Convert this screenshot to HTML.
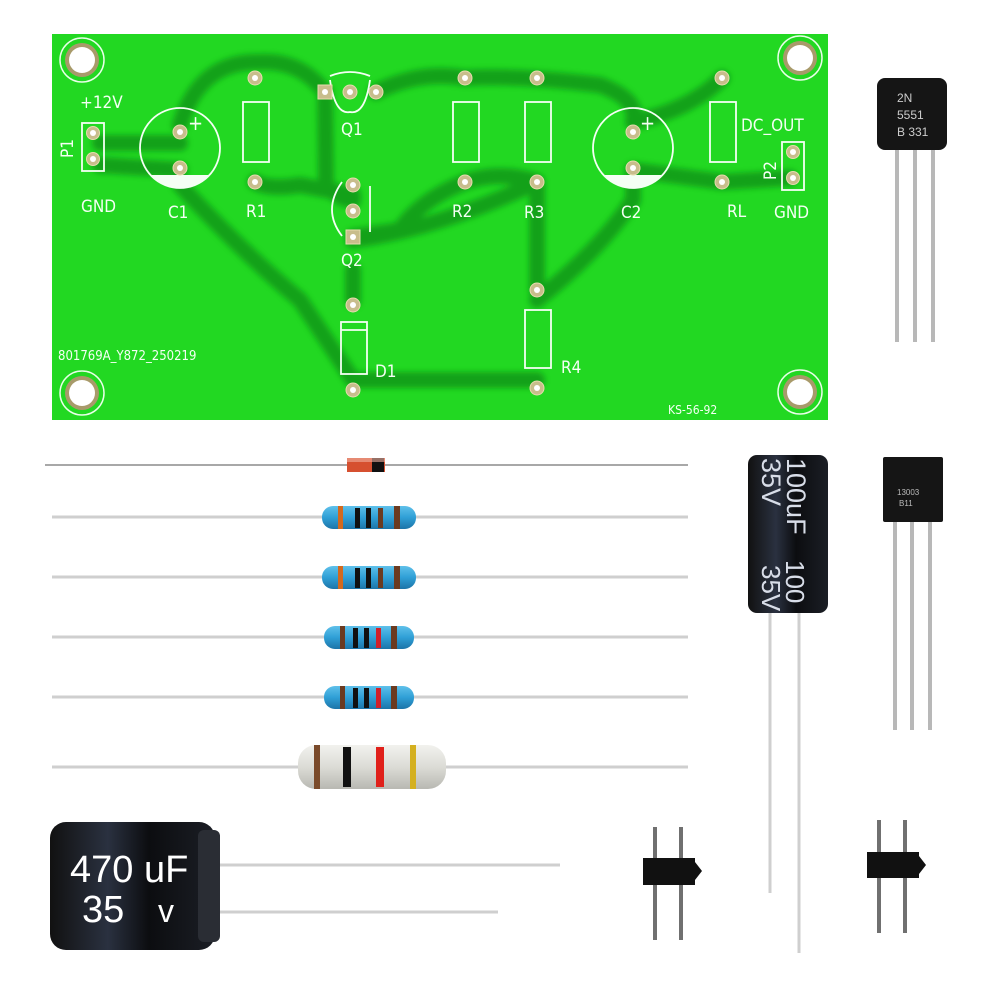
<!DOCTYPE html>
<html><head><meta charset="utf-8"><style>
html,body{margin:0;padding:0;background:#fff;width:1000px;height:1000px;overflow:hidden}
text{font-family:"Liberation Sans",sans-serif}
.silk text{font-family:"DejaVu Sans Condensed","Liberation Sans Narrow","Liberation Sans",sans-serif}
</style></head><body>
<svg width="1000" height="1000" viewBox="0 0 1000 1000" xmlns="http://www.w3.org/2000/svg">
<defs>
<linearGradient id="blk" x1="0" x2="1"><stop offset="0" stop-color="#111"/><stop offset="0.35" stop-color="#2a3140"/><stop offset="0.6" stop-color="#0c0d10"/><stop offset="1" stop-color="#1b1e25"/></linearGradient>
<linearGradient id="res" x1="0" y1="0" x2="0" y2="1"><stop offset="0" stop-color="#5fc0ea"/><stop offset="0.5" stop-color="#2f9fd6"/><stop offset="1" stop-color="#1d74a8"/></linearGradient>
<linearGradient id="res2" x1="0" y1="0" x2="0" y2="1"><stop offset="0" stop-color="#f2f2ee"/><stop offset="0.5" stop-color="#dcdcd6"/><stop offset="1" stop-color="#b8b8b2"/></linearGradient>
<filter id="bl"><feGaussianBlur stdDeviation="3"/></filter>
</defs>
<!-- PCB -->
<rect x="52" y="34" width="776" height="386" fill="#22d822"/>
<g fill="none" stroke="#0c8a18" stroke-width="16" stroke-linecap="round" stroke-linejoin="round" opacity="0.7" filter="url(#bl)">
<path d="M100 143 H180"/>
<path d="M100 165 L180 170"/>
<path d="M180 125 Q200 60 260 62 Q300 60 325 92"/>
<path d="M325 92 L326 185 Q340 200 353 200"/>
<path d="M180 185 Q240 250 300 300 L353 380"/>
<path d="M255 182 Q270 190 300 185 L353 195"/>
<path d="M376 92 Q420 70 465 78 Q520 75 600 85 Q640 100 633 122"/>
<path d="M465 182 Q420 200 400 230 L353 237"/>
<path d="M353 240 Q430 230 520 190 L537 182"/>
<path d="M537 182 L537 290"/>
<path d="M537 300 Q600 250 633 200 L633 170"/>
<path d="M353 380 L537 380"/>
<path d="M353 270 L353 300"/>
<path d="M633 122 Q690 110 722 78"/>
<path d="M722 182 L790 178"/>
<path d="M633 170 L722 182"/>
<path d="M465 182 Q500 170 537 182"/>
</g>
<!-- mounting holes -->
<g>
<circle cx="82" cy="60" r="22" fill="none" stroke="#e8ffe8" stroke-width="1.5"/><circle cx="82" cy="60" r="17" fill="#a89a6a"/><circle cx="82" cy="60" r="13" fill="#fff"/>
<circle cx="800" cy="58" r="22" fill="none" stroke="#e8ffe8" stroke-width="1.5"/><circle cx="800" cy="58" r="17" fill="#a89a6a"/><circle cx="800" cy="58" r="13" fill="#fff"/>
<circle cx="82" cy="393" r="22" fill="none" stroke="#e8ffe8" stroke-width="1.5"/><circle cx="82" cy="393" r="17" fill="#a89a6a"/><circle cx="82" cy="393" r="13" fill="#fff"/>
<circle cx="800" cy="392" r="22" fill="none" stroke="#e8ffe8" stroke-width="1.5"/><circle cx="800" cy="392" r="17" fill="#a89a6a"/><circle cx="800" cy="392" r="13" fill="#fff"/>
</g>
<!-- silkscreen -->
<g fill="none" stroke="#f4fff4" stroke-width="1.8">
<rect x="243" y="102" width="26" height="60"/>
<rect x="453" y="102" width="26" height="60"/>
<rect x="525" y="102" width="26" height="60"/>
<rect x="710" y="102" width="26" height="60"/>
<rect x="525" y="310" width="26" height="58"/>
<rect x="341" y="322" width="26" height="52"/><line x1="341" y1="330" x2="367" y2="330"/>
<rect x="82" y="123" width="22" height="48"/>
<rect x="782" y="142" width="22" height="48"/>
<circle cx="180" cy="148" r="40"/>
<circle cx="633" cy="148" r="40"/>
<path d="M330 76 Q350 68 370 76 M330 80 Q335 115 350 112 Q365 115 370 80"/>
<path d="M342 182 Q322 210 342 236"/><line x1="370" y1="186" x2="370" y2="232"/>
</g>
<path d="M150 175 L210 175 A40 40 0 0 1 150 175Z" fill="#f4fff4"/>
<path d="M603 175 L663 175 A40 40 0 0 1 603 175Z" fill="#f4fff4"/>
<g class="silk" fill="#f4fff4" font-size="17">
<text x="80" y="108">+12V</text>
<text x="81" y="212">GND</text>
<text x="168" y="218">C1</text>
<text x="246" y="217">R1</text>
<text x="341" y="135">Q1</text>
<text x="341" y="266">Q2</text>
<text x="452" y="217">R2</text>
<text x="524" y="218">R3</text>
<text x="621" y="218">C2</text>
<text x="727" y="217">RL</text>
<text x="774" y="218">GND</text>
<text x="741" y="131">DC_OUT</text>
<text x="375" y="377">D1</text>
<text x="561" y="373">R4</text>
<text x="188" y="130" font-size="20">+</text>
<text x="640" y="130" font-size="20">+</text>
<text x="58" y="360" font-size="13">801769A_Y872_250219</text>
<text x="668" y="414" font-size="12">KS-56-92</text>
<text transform="translate(73,158) rotate(-90)">P1</text>
<text transform="translate(776,180) rotate(-90)">P2</text>
</g>
<!-- pads -->
<g fill="#c8bd8c" stroke="#e7dcae" stroke-width="1">
<circle cx="255" cy="78" r="7"/><circle cx="255" cy="182" r="7"/>
<circle cx="465" cy="78" r="7"/><circle cx="465" cy="182" r="7"/>
<circle cx="537" cy="78" r="7"/><circle cx="537" cy="182" r="7"/>
<circle cx="722" cy="78" r="7"/><circle cx="722" cy="182" r="7"/>
<circle cx="537" cy="290" r="7"/><circle cx="537" cy="388" r="7"/>
<circle cx="353" cy="305" r="7"/><circle cx="353" cy="390" r="7"/>
<circle cx="180" cy="132" r="7"/><circle cx="180" cy="168" r="7"/>
<circle cx="633" cy="132" r="7"/><circle cx="633" cy="168" r="7"/>
<circle cx="93" cy="133" r="6.5"/><circle cx="93" cy="159" r="6.5"/>
<circle cx="793" cy="152" r="6.5"/><circle cx="793" cy="178" r="6.5"/>
<rect x="318" y="85" width="14" height="14"/><circle cx="350" cy="92" r="7"/><circle cx="376" cy="92" r="7"/>
<circle cx="353" cy="185" r="7"/><circle cx="353" cy="211" r="7"/><rect x="346" y="230" width="14" height="14"/>
</g>
<g fill="#fff">
<circle cx="255" cy="78" r="3"/><circle cx="255" cy="182" r="3"/><circle cx="465" cy="78" r="3"/><circle cx="465" cy="182" r="3"/>
<circle cx="537" cy="78" r="3"/><circle cx="537" cy="182" r="3"/><circle cx="722" cy="78" r="3"/><circle cx="722" cy="182" r="3"/>
<circle cx="537" cy="290" r="3"/><circle cx="537" cy="388" r="3"/><circle cx="353" cy="305" r="3"/><circle cx="353" cy="390" r="3"/>
<circle cx="180" cy="132" r="3"/><circle cx="180" cy="168" r="3"/><circle cx="633" cy="132" r="3"/><circle cx="633" cy="168" r="3"/>
<circle cx="93" cy="133" r="3"/><circle cx="93" cy="159" r="3"/><circle cx="793" cy="152" r="3"/><circle cx="793" cy="178" r="3"/>
<circle cx="325" cy="92" r="3"/><circle cx="350" cy="92" r="3"/><circle cx="376" cy="92" r="3"/>
<circle cx="353" cy="185" r="3"/><circle cx="353" cy="211" r="3"/><circle cx="353" cy="237" r="3"/>
</g>

<!-- 2N5551 transistor -->
<g stroke="#b8b8b8" stroke-width="4"><line x1="897" y1="150" x2="897" y2="342"/><line x1="915" y1="150" x2="915" y2="342"/><line x1="933" y1="150" x2="933" y2="342"/></g>
<rect x="877" y="78" width="70" height="72" rx="8" fill="#151515"/>
<g fill="#ccc" font-size="12"><text x="897" y="102">2N</text><text x="897" y="119">5551</text><text x="897" y="136">B 331</text></g>

<!-- 13003 transistor -->
<g stroke="#b8b8b8" stroke-width="4"><line x1="895" y1="522" x2="895" y2="730"/><line x1="912" y1="522" x2="912" y2="730"/><line x1="930" y1="522" x2="930" y2="730"/></g>
<rect x="883" y="457" width="60" height="65" rx="2" fill="#151515"/>
<g fill="#bbb" font-size="8"><text x="897" y="495">13003</text><text x="899" y="506">B11</text></g>

<!-- leads -->
<g stroke="#cfcfcf" stroke-width="3">
<line x1="45" y1="465" x2="688" y2="465" stroke="#a8a8a8" stroke-width="2"/>
<line x1="52" y1="517" x2="688" y2="517"/>
<line x1="52" y1="577" x2="688" y2="577"/>
<line x1="52" y1="637" x2="688" y2="637"/>
<line x1="52" y1="697" x2="688" y2="697"/>
<line x1="52" y1="767" x2="688" y2="767"/>
<line x1="200" y1="865" x2="560" y2="865"/>
<line x1="200" y1="912" x2="498" y2="912"/>
<line x1="770" y1="610" x2="770" y2="893"/>
<line x1="799" y1="610" x2="799" y2="953"/>
</g>
<!-- diode -->
<rect x="347" y="458" width="38" height="14" fill="#d65030"/><rect x="372" y="458" width="12" height="14" fill="#111"/><rect x="347" y="458" width="38" height="4" fill="#f0b0a0" opacity="0.6"/>
<!-- blue resistors -->
<g>
<rect x="322" y="506" width="94" height="23" rx="11" fill="url(#res)"/><rect x="338" y="506" width="5" height="23" fill="#d2691e"/><rect x="355" y="508" width="5" height="20" fill="#111"/><rect x="366" y="508" width="5" height="20" fill="#111"/><rect x="378" y="508" width="5" height="20" fill="#6b3a20"/><rect x="394" y="506" width="6" height="23" fill="#6b3a20"/>
<rect x="322" y="566" width="94" height="23" rx="11" fill="url(#res)"/><rect x="338" y="566" width="5" height="23" fill="#d2691e"/><rect x="355" y="568" width="5" height="20" fill="#111"/><rect x="366" y="568" width="5" height="20" fill="#111"/><rect x="378" y="568" width="5" height="20" fill="#6b3a20"/><rect x="394" y="566" width="6" height="23" fill="#6b3a20"/>
<rect x="324" y="626" width="90" height="23" rx="11" fill="url(#res)"/><rect x="340" y="626" width="5" height="23" fill="#6b3a20"/><rect x="353" y="628" width="5" height="20" fill="#111"/><rect x="364" y="628" width="5" height="20" fill="#111"/><rect x="376" y="628" width="5" height="20" fill="#d0202a"/><rect x="391" y="626" width="6" height="23" fill="#6b3a20"/>
<rect x="324" y="686" width="90" height="23" rx="11" fill="url(#res)"/><rect x="340" y="686" width="5" height="23" fill="#6b3a20"/><rect x="353" y="688" width="5" height="20" fill="#111"/><rect x="364" y="688" width="5" height="20" fill="#111"/><rect x="376" y="688" width="5" height="20" fill="#d0202a"/><rect x="391" y="686" width="6" height="23" fill="#6b3a20"/>
</g>
<!-- large resistor -->
<rect x="298" y="745" width="148" height="44" rx="18" fill="url(#res2)"/>
<rect x="314" y="745" width="6" height="44" fill="#7a4a2a"/><rect x="343" y="747" width="8" height="40" fill="#111"/><rect x="376" y="747" width="8" height="40" fill="#e0201a"/><rect x="410" y="745" width="6" height="44" fill="#d4b020"/>
<!-- 100uF cap -->
<rect x="748" y="455" width="80" height="158" rx="9" fill="url(#blk)"/>
<g fill="#d8dde8" font-size="27"><text transform="translate(787,458) rotate(90)">100uF</text><text transform="translate(762,458) rotate(90)">35V</text>
<text transform="translate(786,560) rotate(90)" font-size="26">100</text><text transform="translate(762,565) rotate(90)" font-size="26">35V</text></g>
<!-- 470uF cap -->
<rect x="50" y="822" width="165" height="128" rx="16" fill="url(#blk)"/>
<rect x="198" y="830" width="22" height="112" rx="6" fill="#2a2d34"/>
<g fill="#fff" font-size="38"><text x="70" y="882">470 uF</text><text x="82" y="922">35</text><text x="158" y="922" font-size="32">v</text></g>
<!-- headers -->
<g stroke="#707070" stroke-width="4"><line x1="655" y1="827" x2="655" y2="940"/><line x1="681" y1="827" x2="681" y2="940"/>
<line x1="879" y1="820" x2="879" y2="933"/><line x1="905" y1="820" x2="905" y2="933"/></g>
<rect x="643" y="858" width="52" height="27" fill="#111"/><polygon points="695,862 702,871 695,880" fill="#111"/>
<rect x="867" y="852" width="52" height="26" fill="#111"/><polygon points="919,856 926,865 919,874" fill="#111"/>
</svg>
</body></html>
